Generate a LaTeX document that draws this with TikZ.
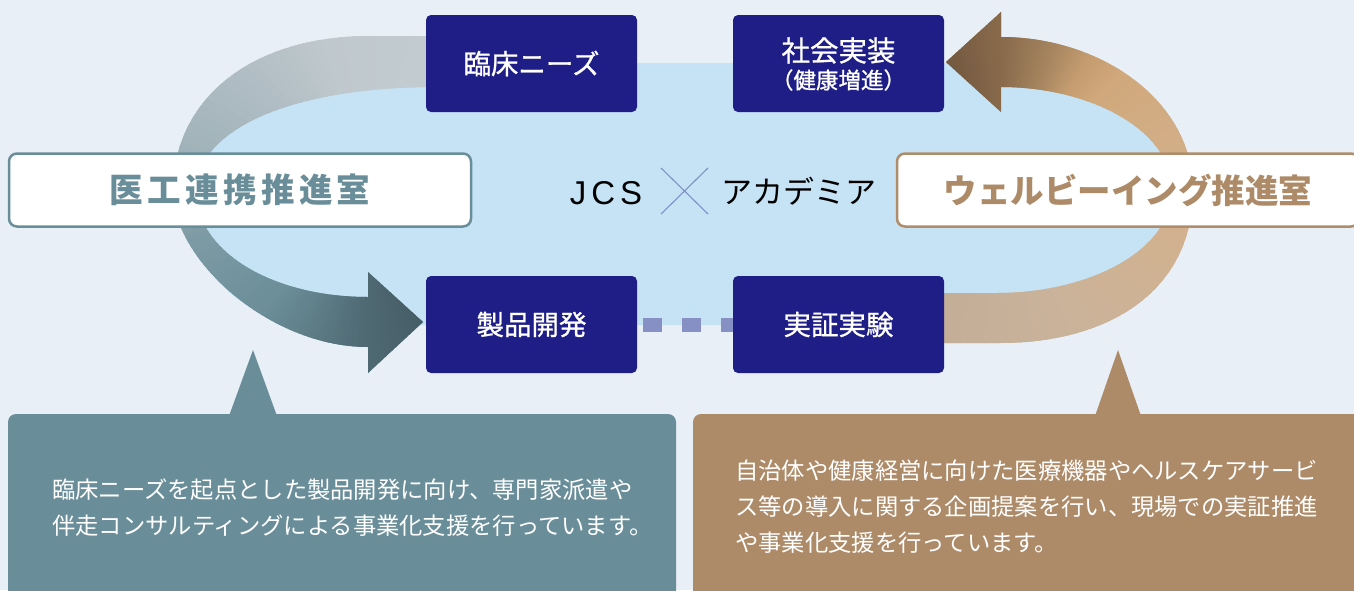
\documentclass[tikz,border=0pt]{standalone}
\usepackage{fontspec}
\newfontfamily\jp{Noto Sans CJK JP}
\newfontfamily\jpm[FakeBold=0.9]{Noto Sans CJK JP}
\newfontfamily\lat{Liberation Sans}
\definecolor{bgc}{HTML}{E8EFF7}
\definecolor{lblue}{HTML}{C5E3F5}
\definecolor{navyc}{HTML}{1E1E86}
\definecolor{ikteal}{HTML}{6A8E99}
\definecolor{wbrown}{HTML}{AE8B68}
\definecolor{wbline}{HTML}{B08D6A}
\definecolor{dashc}{HTML}{8790C5}
\definecolor{crossc}{HTML}{8090C8}
\definecolor{lcA}{HTML}{C3CCD1}
\definecolor{lcB}{HTML}{BFC8CD}
\definecolor{lcC}{HTML}{A2B3BA}
\definecolor{lcD}{HTML}{7C9AA4}
\definecolor{lcE}{HTML}{6B8E99}
\definecolor{lcF}{HTML}{506B74}
\definecolor{lcG}{HTML}{3F555E}
\definecolor{rcA}{HTML}{C2AD98}
\definecolor{rcB}{HTML}{CBB39A}
\definecolor{rcC}{HTML}{D3B18B}
\definecolor{rcD}{HTML}{D0A77B}
\definecolor{rcE}{HTML}{C49C70}
\definecolor{rcF}{HTML}{A5845E}
\definecolor{rcG}{HTML}{8A6B4C}
\definecolor{rcH}{HTML}{6A523C}
% conic wedges: #1 cx, #2 cy, #3 start angle, #4 end angle, #5 start colour, #6 end colour
\newcommand{\mywedges}[6]{%
  \foreach \k in {0,...,19}{%
    \pgfmathsetmacro\angA{#3+(#4-(#3))*\k/20}%
    \pgfmathsetmacro\angB{#3+(#4-(#3))*(\k+1.8)/20}%
    \pgfmathtruncatemacro\pctA{100-5*\k}%
    \fill[#5!\pctA!#6] (#1,#2) -- +(\angA:520) -- +(\angB:520) -- cycle;
  }}
\tikzset{
  navybox/.style={fill=navyc, rounded corners=5pt, minimum width=211pt, minimum height=97pt,
    inner sep=0pt, text=white, font=\jpm\fontsize{27.5}{30}\selectfont},
  labbox/.style={fill=white, rounded corners=8pt, line width=2.5pt, minimum width=462pt,
    minimum height=73pt, inner sep=0pt, font=\jp\bfseries\fontsize{33.5}{36}\selectfont},
  bubtext/.style={anchor=west, align=left, text=white, inner sep=0pt,
    font=\jp\fontsize{23.3}{36}\selectfont},
}
\begin{document}
\begin{tikzpicture}[x=1pt,y=-1pt]
\useasboundingbox (0,0) rectangle (1354,590);
\clip (0,0) rectangle (1354,590);
\fill[bgc] (0,0) rectangle (1354,590);
% light blue field
\fill[lblue, rounded corners=131pt] (185,63) rectangle (1182,325);
% left arrow
\begin{scope}
\clip (436,36) -- (370,36) .. controls (250,36) and (173,100) .. (173,191.5)
  .. controls (173,260) and (270,347) .. (368,347) -- (368,373) -- (423,322)
  -- (368,272) -- (368,297) .. controls (270,297) and (196,250) .. (196,191.5)
  .. controls (196,130) and (290,87) .. (436,87) -- cycle;
\mywedges{370}{191.5}{304}{255}{lcA}{lcB}
\mywedges{370}{191.5}{255}{195}{lcB}{lcC}
\mywedges{370}{191.5}{195}{165}{lcC}{lcD}
\mywedges{370}{191.5}{165}{132}{lcD}{lcE}
\mywedges{370}{191.5}{132}{95}{lcE}{lcF}
\mywedges{370}{191.5}{95}{55}{lcF}{lcG}
\end{scope}
% right arrow
\begin{scope}
\clip (938,343) -- (1000,343) .. controls (1110,343) and (1193,290) .. (1193,190)
  .. controls (1193,100) and (1100,37) .. (1001,37) -- (1001,12) -- (946,62)
  -- (1001,112) -- (1001,87) .. controls (1090,87) and (1172,130) .. (1172,190)
  .. controls (1172,250) and (1090,293) .. (997,293) -- (938,293) -- cycle;
\mywedges{1000}{191.5}{126}{60}{rcA}{rcB}
\mywedges{1000}{191.5}{60}{0}{rcB}{rcC}
\mywedges{1000}{191.5}{0}{-45}{rcC}{rcD}
\mywedges{1000}{191.5}{-45}{-56}{rcD}{rcE}
\mywedges{1000}{191.5}{-56}{-70}{rcE}{rcF}
\mywedges{1000}{191.5}{-70}{-88}{rcF}{rcG}
\mywedges{1000}{191.5}{-88}{-120}{rcG}{rcH}
\end{scope}
% navy boxes
\node[navybox] (needs) at (531.5,63.5) {臨床ニーズ};
\node[navybox] (social) at (838.5,63.5) {};
\node[text=white, inner sep=0pt, font=\jpm\fontsize{28.5}{30}\selectfont] (socialA) at (838.5,50.5) {社会実装};
\node[text=white, inner sep=0pt, font=\jpm\fontsize{22.5}{24}\selectfont] (socialB) at (838.5,80) {（健康増進）};
\node[navybox] (dev) at (531.5,324.5) {製品開発};
\node[navybox] (test) at (838.5,324.5) {実証実験};
\draw[dashc, line width=14pt, dash pattern=on 19pt off 20pt, dash phase=33pt] (dev.east) -- (test.west);
% labels
\node[labbox, draw=ikteal, text=ikteal] (ikou) at (240,190)
  {医\hspace{4.4pt}工\hspace{4.4pt}連\hspace{4.4pt}携\hspace{4.4pt}推\hspace{4.4pt}進\hspace{4.4pt}室};
\node[labbox, draw=wbline, text=wbrown] (wb) at (1128,190)
  {ウェルビーイング推進室};
% centre title
\node[inner sep=0pt, font=\lat\fontsize{33}{36}\selectfont, anchor=base] (jcs) at (606,204)
  {J\hspace{5pt}C\hspace{5pt}S};
\draw[crossc, line width=1.1pt] (661,168) -- (708,214);
\draw[crossc, line width=1.1pt] (708,168) -- (661,214);
\node[inner sep=0pt, font=\jp\fontsize{31}{34}\selectfont] (acad) at (798.5,191.5) {アカデミア};
% speech bubbles
\fill[ikteal, rounded corners=8pt] (8,414) rectangle (676,620);
\fill[ikteal] (229,416) -- (253,350) -- (277,416) -- cycle;
\fill[wbrown, rounded corners=8pt] (693,414) rectangle (1380,620);
\fill[wbrown] (1095,416) -- (1118,350) -- (1141,416) -- cycle;
\node[bubtext] (leftdesc) at (52,508)
  {臨床ニーズを起点とした製品開発に向け、専門家派遣や\\伴走コンサルティングによる事業化支援を行っています。};
\node[bubtext] (rightdesc) at (735,507)
  {自治体や健康経営に向けた医療機器やヘルスケアサービ\\ス等の導入に関する企画提案を行い、現場での実証推進\\や事業化支援を行っています。};
\end{tikzpicture}
\end{document}
